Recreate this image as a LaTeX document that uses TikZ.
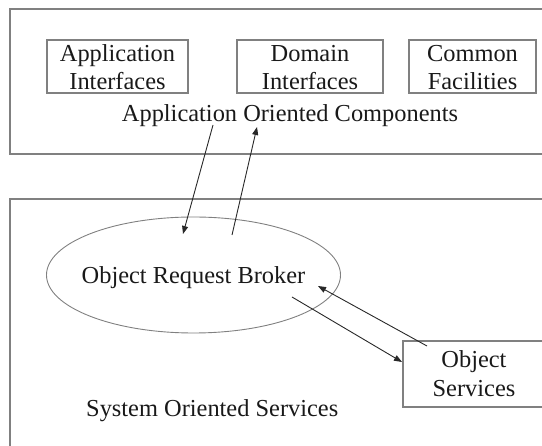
\documentclass[tikz,border=0pt]{standalone}
\usepackage{fontspec}
\setmainfont{Liberation Serif}
\usetikzlibrary{arrows.meta,shapes.geometric}
\definecolor{framegray}{RGB}{128,128,128}
\definecolor{arrowgray}{RGB}{40,40,40}
\definecolor{textgray}{RGB}{25,25,25}
\begin{document}
\begin{tikzpicture}[x=1pt,y=-1pt,
  frame/.style={draw=framegray, line width=1.3pt, rectangle, inner sep=0pt},
  txt/.style={font=\fontsize{24.4}{28}\selectfont, text=textgray, inner sep=0pt},
  box/.style={txt, draw=framegray, line width=1.1pt, rectangle, align=center,
    text height=50pt, text depth=3pt},
  conn/.style={draw=arrowgray, line width=0.9pt, -{Triangle[length=8pt,width=6pt]}}
]
\useasboundingbox (0,0) rectangle (542,446);
\clip (0,0) rectangle (542,446);
% container frames (cut off at the picture edge)
\node[frame, minimum width=550pt, minimum height=145pt] (top) at (285,81.5) {};
\node[frame, minimum width=550pt, minimum height=271pt] (bottom) at (285,334.5) {};
% application oriented components
\node[box, minimum width=141pt] (app) at (117.5,66.5) {Application\\Interfaces};
\node[box, minimum width=146pt] (dom) at (310,66.5) {Domain\\Interfaces};
\node[box, minimum width=127pt] (com) at (472.5,66.5) {Common\\Facilities};
\node[txt, anchor=base] (aoc) at (290,122) {Application Oriented Components};
% system oriented services
\node[txt, ellipse, draw=framegray, line width=0.9pt, minimum width=294pt,
  minimum height=116pt, inner xsep=-30pt, inner ysep=0pt, text height=18pt, text depth=0pt] (orb) at (193.5,275) {Object Request Broker};
\node[box, font=\fontsize{24.4}{29}\selectfont, minimum width=142pt,
  text height=56pt, text depth=10pt] (os) at (474,374) {Object\\Services};
\node[txt, anchor=base west] (sos) at (86,417) {System Oriented Services};
% connector end points
\coordinate (a1s) at (213,125);
\coordinate (a1e) at (183,234);
\coordinate (a2s) at (232,235);
\coordinate (a2e) at (257,127);
\coordinate (a3s) at (427,346);
\coordinate (a3e) at (318,286);
\coordinate (a4s) at (292,297);
\coordinate (a4e) at (402,362);
\draw[conn] (a1s) -- (a1e);
\draw[conn] (a2s) -- (a2e);
\draw[conn] (a3s) -- (a3e);
\draw[conn] (a4s) -- (a4e);
\end{tikzpicture}
\end{document}
